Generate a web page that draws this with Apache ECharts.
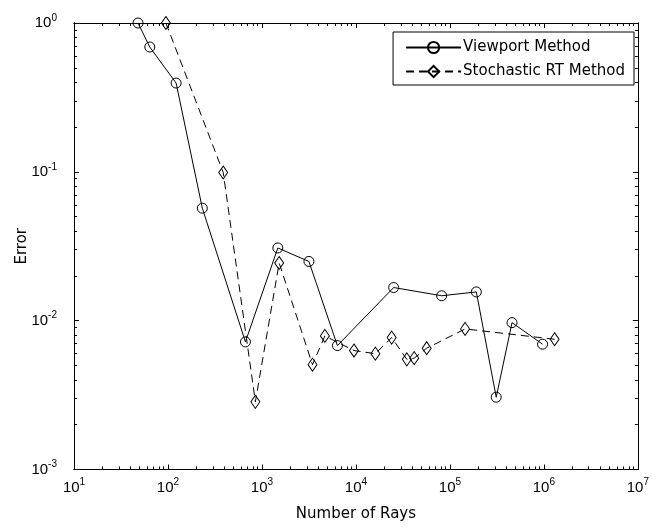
<!DOCTYPE html>
<html>
<head>
<meta charset="utf-8">
<script src="https://cdn.jsdelivr.net/npm/echarts@6/dist/echarts.min.js"></script>
<style>
html,body{margin:0;padding:0;background:#fff;}
#chart{width:652px;height:527px;}
</style>
</head>
<body>
<div id="chart"></div>
<script>
// ---- data ----
const viewportX = [48, 64, 122, 232, 667, 1475, 3160, 6350, 25200, 81600, 191000, 311000, 458000, 968000];
const viewportY = [1.0, 0.69, 0.395, 0.057, 0.0072, 0.0308, 0.025, 0.0068, 0.0167, 0.0147, 0.0156, 0.00306, 0.0097, 0.00695];
const stochasticX = [95, 387, 851, 1524, 3450, 4670, 9530, 16100, 24000, 34800, 41700, 56600, 145000, 1300000];
const stochasticY = [1.0, 0.099, 0.00285, 0.0244, 0.00506, 0.0079, 0.0063, 0.006, 0.0077, 0.0055, 0.0056, 0.00653, 0.0088, 0.0075];
const xTickExponents = [1, 2, 3, 4, 5, 6, 7];
const yTickExponents = [-3, -2, -1, 0];
const seriesNames = ['Viewport Method', 'Stochastic RT Method'];
const xAxisName = 'Number of Rays';
const yAxisName = 'Error';

// ---- ticks ----
function majors(exps) { return exps.map(e => Math.pow(10, e)); }
function minors(exps) {
  const out = [];
  for (let i = 0; i < exps.length - 1; i++) {
    for (let k = 2; k <= 9; k++) out.push(k * Math.pow(10, exps[i]));
  }
  return out;
}
const xMaj = majors(xTickExponents), xMin = minors(xTickExponents);
const yMaj = majors(yTickExponents), yMin = minors(yTickExponents);
const xRange = [xMaj[0], xMaj[xMaj.length - 1]];
const yRange = [yMaj[0], yMaj[yMaj.length - 1]];

const FONT = 'Liberation Sans, Arial, sans-serif';
const FONT2 = 'DejaVu Sans, sans-serif';
const rich = {
  b: { fontSize: 15, fontFamily: FONT, color: '#000' },
  s: { fontSize: 10, fontFamily: FONT, color: '#000', padding: [0, 0, 10, 0] }
};
function fmt(v) {
  const e = Math.round(Math.log10(v));
  return '{b|10}{s|' + e + '}';
}
const lineStyle = { color: '#000', width: 1 };

function xAxis(pos, ticks, len, labels) {
  return {
    type: 'log', logBase: 10, position: pos, min: xRange[0], max: xRange[1],
    axisLine: { show: true, lineStyle: lineStyle },
    axisTick: { show: true, inside: true, length: len, lineStyle: lineStyle, customValues: ticks },
    axisLabel: labels ? { show: true, customValues: xMaj, formatter: fmt, rich: rich, margin: 8 } : { show: false },
    splitLine: { show: false },
    minorTick: { show: false }, minorSplitLine: { show: false }
  };
}
function yAxis(pos, ticks, len, labels) {
  return {
    type: 'log', logBase: 10, position: pos, min: yRange[0], max: yRange[1],
    axisLine: { show: true, lineStyle: lineStyle },
    axisTick: { show: true, inside: true, length: len, lineStyle: lineStyle, customValues: ticks },
    axisLabel: labels ? { show: true, customValues: yMaj, formatter: fmt, rich: rich, margin: 17 } : { show: false },
    splitLine: { show: false },
    minorTick: { show: false }, minorSplitLine: { show: false }
  };
}

const xs = [xAxis('bottom', xMaj, 5, true), xAxis('bottom', xMin, 3, false), xAxis('top', xMaj, 5, false), xAxis('top', xMin, 3, false)];
xs[0].name = xAxisName;
xs[0].nameLocation = 'middle';
xs[0].nameGap = 45;
xs[0].nameMoveOverlap = false;
xs[0].nameTextStyle = { fontSize: 15, fontFamily: FONT2, color: '#000', verticalAlign: 'middle' };
const ys = [yAxis('left', yMaj, 5, true), yAxis('left', yMin, 3, false), yAxis('right', yMaj, 5, false), yAxis('right', yMin, 3, false)];
ys[0].name = yAxisName;
ys[0].nameLocation = 'middle';
ys[0].nameGap = 52;
ys[0].nameMoveOverlap = false;
ys[0].nameTextStyle = { fontSize: 15, fontFamily: FONT2, color: '#000', verticalAlign: 'middle' };

function pairs(xa, ya) { return xa.map((x, i) => [x, ya[i]]); }
const hollow = { color: 'rgba(255,255,255,0)', borderColor: '#000', borderWidth: 1 };

const option = {
  backgroundColor: '#fff',
  animation: false,
  grid: { left: 74, right: 10, top: 23, bottom: 55, containLabel: false },
  xAxis: xs,
  yAxis: ys,
  legend: {
    orient: 'vertical', right: 18, top: 32,
    padding: [8, 9, 6, 12], itemGap: 9, itemWidth: 55, itemHeight: 14,
    borderColor: '#000', borderWidth: 1, borderRadius: 0, backgroundColor: '#fff',
    textStyle: { fontSize: 15, fontFamily: FONT2, color: '#000', padding: [0, 0, 0, -3] },
    data: seriesNames
  },
  series: [
    {
      name: seriesNames[0], type: 'line', xAxisIndex: 0, yAxisIndex: 0,
      data: pairs(viewportX, viewportY), clip: false,
      symbol: 'circle', symbolSize: 10, showAllSymbol: true,
      lineStyle: { color: '#000', width: 1, type: 'solid' },
      itemStyle: hollow, emphasis: { disabled: true }
    },
    {
      name: seriesNames[1], type: 'line', xAxisIndex: 0, yAxisIndex: 0,
      data: pairs(stochasticX, stochasticY), clip: false,
      symbol: 'diamond', symbolSize: [9, 13], showAllSymbol: true,
      lineStyle: { color: '#000', width: 1, type: [8, 5] },
      itemStyle: hollow, emphasis: { disabled: true }
    }
  ]
};
const chart = echarts.init(document.getElementById('chart'), null, { renderer: 'canvas' });
chart.setOption(option);
</script>
</body>
</html>
